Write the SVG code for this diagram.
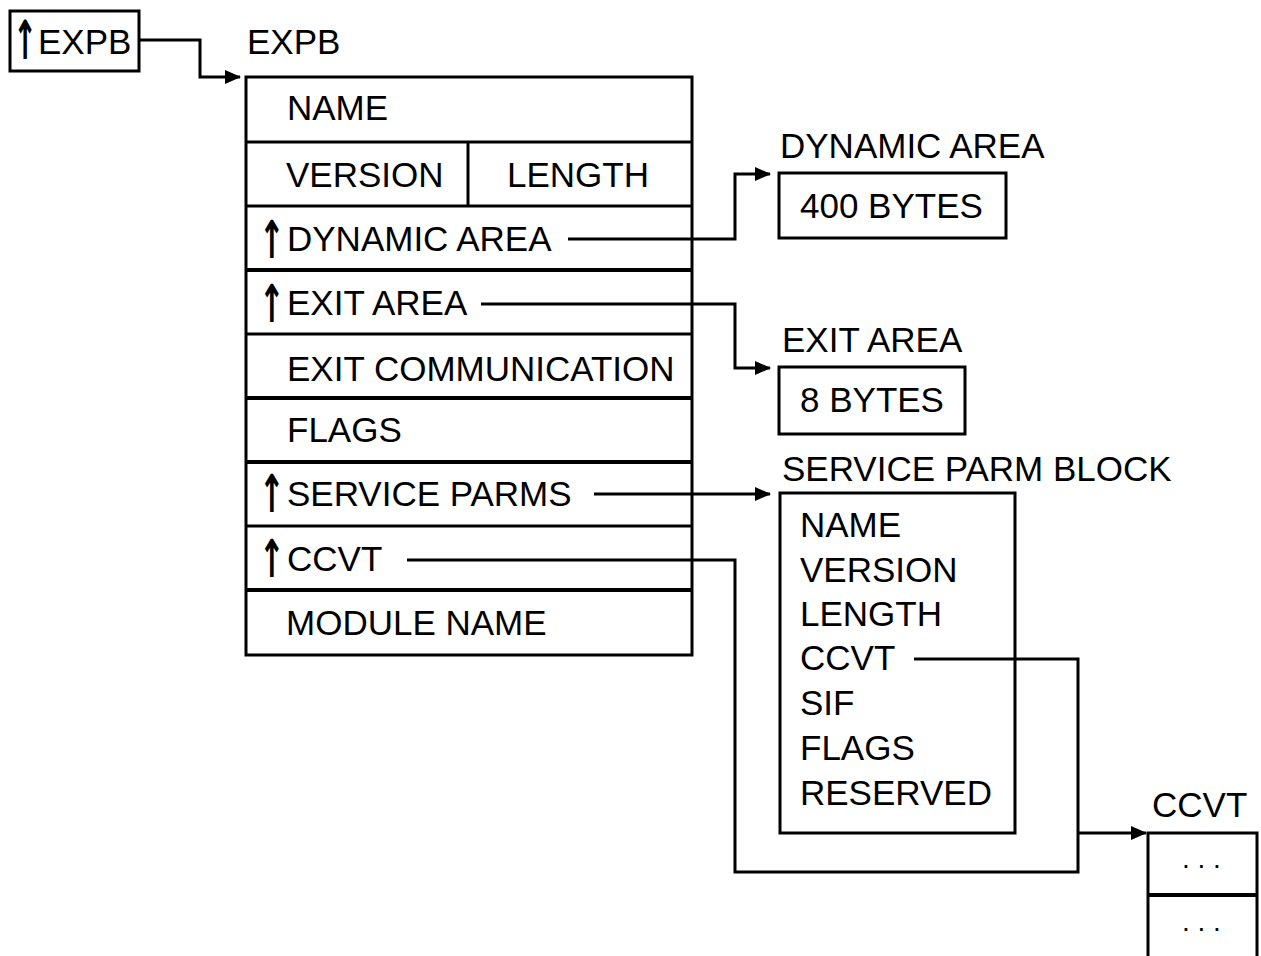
<svg xmlns="http://www.w3.org/2000/svg" width="1261" height="956" viewBox="0 0 1261 956">
<style>
text{font-family:"Liberation Sans",Arial,sans-serif;font-size:35px;fill:#000}
.up{font-family:"DejaVu Sans",sans-serif;font-size:36px;font-weight:bold}
.box{fill:none;stroke:#000;stroke-width:3}
.div{stroke:#000;stroke-width:3}
.thick{stroke:#000;stroke-width:4}
.con{fill:none;stroke:#000;stroke-width:3}
.dots{font-size:28px}
</style>
<defs>
<marker id="ah" markerWidth="16" markerHeight="14" refX="15" refY="7" orient="auto" markerUnits="userSpaceOnUse">
<path d="M0,0 L16,7 L0,14 Z" fill="#000"/>
</marker>
</defs>
<rect width="1261" height="956" fill="#fff"/>

<g id="ptr-expb">
<rect class="box" x="10" y="11" width="129" height="60"/>
<text class="up" transform="translate(13,59) scale(0.8,1.5)">↑</text>
<text x="38" y="54">EXPB</text>
</g>

<g id="expb">
<text x="247" y="54">EXPB</text>
<rect class="box" x="246" y="77" width="446" height="578"/>
<line class="div" x1="246" y1="142" x2="692" y2="142"/>
<line class="div" x1="468" y1="142" x2="468" y2="206"/>
<line class="div" x1="246" y1="206" x2="692" y2="206"/>
<line class="thick" x1="246" y1="270" x2="692" y2="270"/>
<line class="div" x1="246" y1="334" x2="692" y2="334"/>
<line class="thick" x1="246" y1="398" x2="692" y2="398"/>
<line class="thick" x1="246" y1="462" x2="692" y2="462"/>
<line class="div" x1="246" y1="526" x2="692" y2="526"/>
<line class="thick" x1="246" y1="590" x2="692" y2="590"/>
<text x="287" y="120">NAME</text>
<text x="286" y="187">VERSION</text>
<text x="507" y="187">LENGTH</text>
<text class="up" transform="translate(259,258) scale(0.85,1.45)">↑</text>
<text x="287" y="251">DYNAMIC AREA</text>
<text class="up" transform="translate(259,322) scale(0.85,1.45)">↑</text>
<text x="287" y="315">EXIT AREA</text>
<text x="287" y="381">EXIT COMMUNICATION</text>
<text x="287" y="442">FLAGS</text>
<text class="up" transform="translate(259,512) scale(0.85,1.45)">↑</text>
<text x="287" y="506">SERVICE PARMS</text>
<text class="up" transform="translate(259,577) scale(0.85,1.45)">↑</text>
<text x="287" y="571">CCVT</text>
<text x="286" y="635">MODULE NAME</text>
</g>

<g id="dynamic-area">
<text x="780" y="158">DYNAMIC AREA</text>
<rect class="box" x="779" y="173" width="227" height="65"/>
<text x="800" y="218">400 BYTES</text>
</g>

<g id="exit-area">
<text x="782" y="352">EXIT AREA</text>
<rect class="box" x="779" y="367" width="186" height="67"/>
<text x="800" y="412">8 BYTES</text>
</g>

<g id="service-parm-block">
<text x="782" y="481">SERVICE PARM BLOCK</text>
<rect class="box" x="780" y="493" width="235" height="340"/>
<text x="800" y="537">NAME</text>
<text x="800" y="582">VERSION</text>
<text x="800" y="626">LENGTH</text>
<text x="800" y="670">CCVT</text>
<text x="800" y="715">SIF</text>
<text x="800" y="760">FLAGS</text>
<text x="800" y="805">RESERVED</text>
</g>

<g id="ccvt">
<text x="1152" y="817">CCVT</text>
<path class="box" d="M1148,960 L1148,833 L1257,833 L1257,960"/>
<line class="thick" x1="1148" y1="895" x2="1257" y2="895"/>
<text class="dots" x="1182" y="868">. . .</text>
<text class="dots" x="1182" y="931">. . .</text>
</g>

<g id="connectors">
<path class="con" d="M139,40 L200,40 L200,77 L240,77" marker-end="url(#ah)"/>
<path class="con" d="M568,239 L735,239 L735,174 L770,174" marker-end="url(#ah)"/>
<path class="con" d="M481,304 L735,304 L735,368 L770,368" marker-end="url(#ah)"/>
<path class="con" d="M594,494 L770,494" marker-end="url(#ah)"/>
<path class="con" d="M407,560 L735,560 L735,872 L1078,872 L1078,659 L914,659"/>
<path class="con" d="M1078,833 L1146,833" marker-end="url(#ah)"/>
</g>
</svg>
